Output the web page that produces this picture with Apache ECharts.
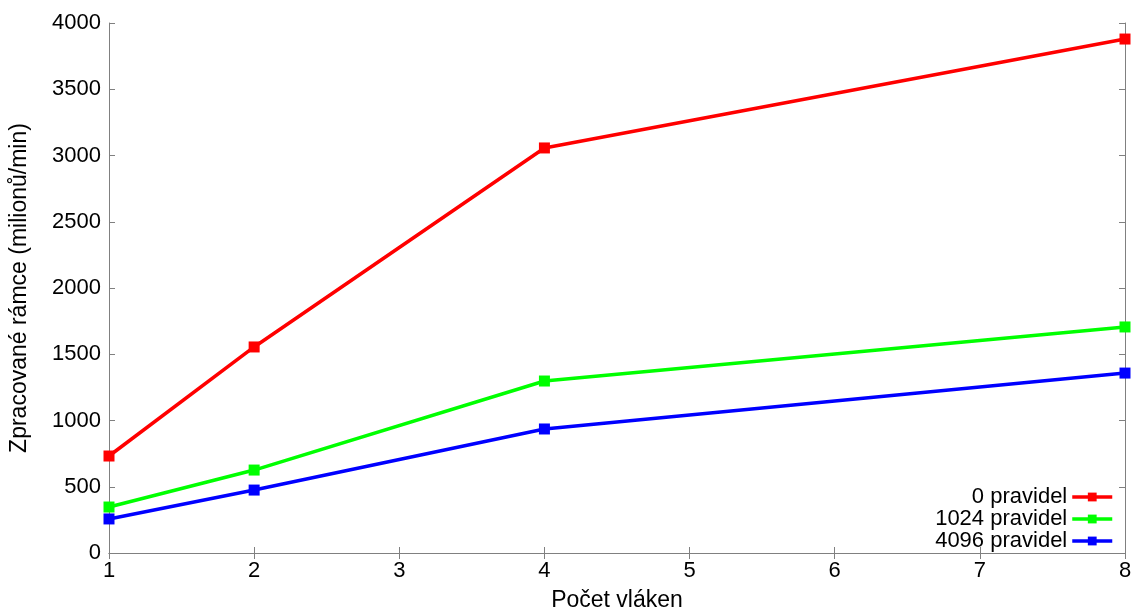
<!DOCTYPE html>
<html><head><meta charset="utf-8">
<script src="https://cdn.jsdelivr.net/npm/echarts@6/dist/echarts.min.js"></script>
<style>html,body{margin:0;padding:0;background:#fff}#c{width:1136px;height:609px}</style>
</head><body><div id="c"></div>
<script>
const threads = [1, 2, 4, 8];
const seriesNames = ['0 pravidel', '1024 pravidel', '4096 pravidel'];
const rules0 = [732, 1555, 3057, 3879];
const rules1024 = [347, 626, 1298, 1706];
const rules4096 = [257, 475, 936, 1358];
const colors = ['#ff0000', '#00ff00', '#0000ff'];
const values = [rules0, rules1024, rules4096];

const chart = echarts.init(document.getElementById('c'));
const font = 'Liberation Sans, Arial, sans-serif';
const axisLine = {show: true, lineStyle: {color: '#808080', width: 1}};
const tick = {show: true, inside: true, length: 6, lineStyle: {color: '#808080'}};
const fmt = v => String(v);
chart.setOption({
  animation: false,
  grid: {left: 109, right: 11, top: 23, bottom: 56, outerBoundsMode: 'none', containLabel: false},
  legend: {
    orient: 'vertical', right: 17, bottom: 52, align: 'right',
    itemWidth: 40, itemHeight: 11, itemGap: 0,
    lineStyle: {width: 3.5},
    textStyle: {fontFamily: font, fontSize: 22, color: '#000', lineHeight: 21, padding: [0, 0, 0, 0]},
    data: seriesNames
  },
  xAxis: [{
    type: 'value', min: 1, max: 8, interval: 1,
    name: 'Počet vláken', nameLocation: 'middle', nameGap: 36,
    nameTextStyle: {fontFamily: font, fontSize: 23, color: '#000'},
    axisLine: axisLine, axisTick: tick, splitLine: {show: false},
    axisLabel: {fontFamily: font, fontSize: 22, color: '#000', margin: 7, formatter: fmt}
  }, {
    type: 'value', min: 1, max: 8, interval: 1, position: 'top',
    axisLine: axisLine, axisTick: tick, splitLine: {show: false}, axisLabel: {show: false}
  }],
  yAxis: [{
    type: 'value', min: 0, max: 4000, interval: 500,
    name: 'Zpracované rámce (milionů/min)', nameLocation: 'middle', nameGap: 78,
    nameTextStyle: {fontFamily: font, fontSize: 23, color: '#000'},
    axisLine: axisLine, axisTick: tick, splitLine: {show: false},
    axisLabel: {fontFamily: font, fontSize: 22, color: '#000', margin: 8, formatter: fmt}
  }, {
    type: 'value', min: 0, max: 4000, interval: 500, position: 'right',
    axisLine: axisLine, axisTick: tick, splitLine: {show: false}, axisLabel: {show: false}
  }],
  series: seriesNames.map((n, i) => ({
    name: n, type: 'line',
    data: threads.map((t, j) => [t, values[i][j]]),
    symbol: 'rect', symbolSize: 11,
    lineStyle: {color: colors[i], width: 3.5},
    itemStyle: {color: colors[i]}
  }))
});
</script></body></html>
